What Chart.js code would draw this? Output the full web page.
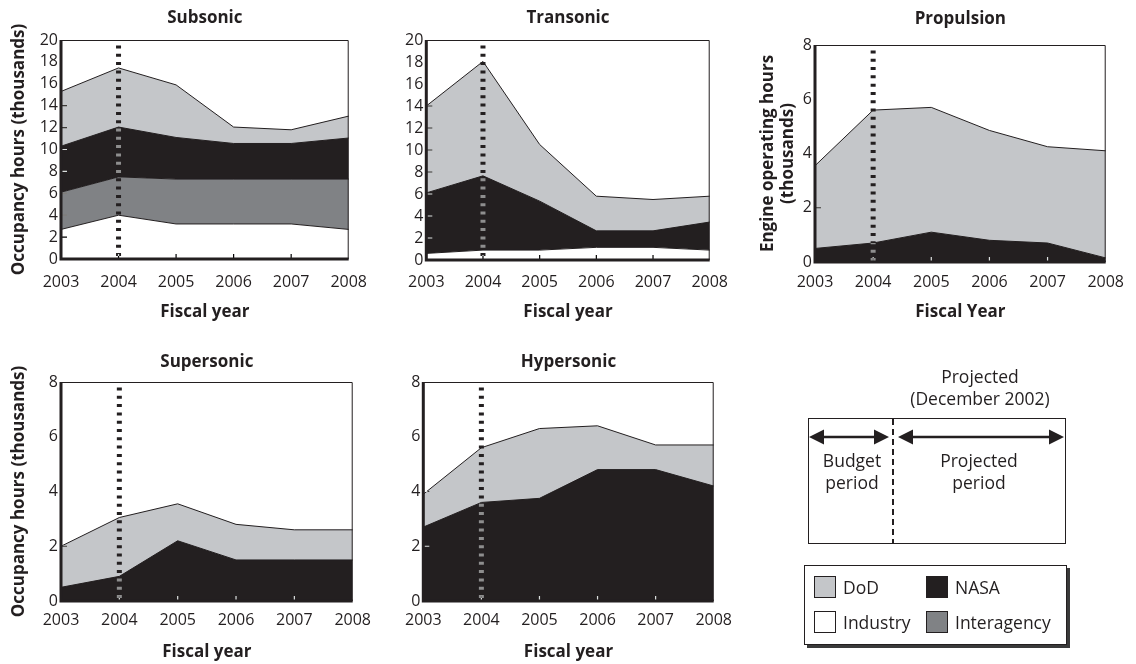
<!DOCTYPE html>
<html>
<head>
<meta charset="utf-8">
<script src="https://cdn.jsdelivr.net/npm/chart.js@4.4.1/dist/chart.umd.min.js"></script>
<style>
    body { margin: 0; background: #fff; font-family: 'Open Sans', sans-serif; color: #231f20; }
    #page { position: relative; width: 1136px; height: 664px; overflow: hidden; }
    canvas { position: absolute; }
    #key { position: absolute; left: 0; top: 0; }
    #legend { position: absolute; left: 804px; top: 565px; width: 261px; height: 78px;
              border: 1px solid #231f20; box-shadow: 3px 3px 0 #3a3a3a; background: #fff; }
    .item { position: absolute; font-size: 17.5px; line-height: 22px; }
    .item span { position: absolute; left: 0; top: 0; width: 20px; height: 20px; border: 1px solid #231f20; }
    .item b { font-weight: normal; position: absolute; left: 29px; top: 0; white-space: nowrap; }
</style>
</head>
<body>
<div id="page">
    <canvas id="subsonic" width="381" height="322" style="left:0;top:0"></canvas>
    <canvas id="transonic" width="346" height="322" style="left:395px;top:0"></canvas>
    <canvas id="propulsion" width="385" height="322" style="left:750px;top:0"></canvas>
    <canvas id="supersonic" width="381" height="324" style="left:0;top:340px"></canvas>
    <canvas id="hypersonic" width="347" height="324" style="left:395px;top:340px"></canvas>

    <svg id="key" width="1136" height="664">
        <g font-family="Open Sans" font-size="17.5" fill="#231f20" text-anchor="middle">
            <text x="980" y="383">Projected</text>
            <text x="980" y="405">(December 2002)</text>
            <text x="852" y="467">Budget</text>
            <text x="852" y="489">period</text>
            <text x="979" y="467">Projected</text>
            <text x="979" y="489">period</text>
        </g>
        <rect x="808.5" y="418.5" width="257" height="125" fill="none" stroke="#231f20" stroke-width="1"></rect>
        <line x1="893" y1="419" x2="893" y2="543" stroke="#231f20" stroke-width="2" stroke-dasharray="6,4"></line>
        <path d="M809,437 l15,-7.5 v15 z M889,437 l-15,-7.5 v15 z M898,437 l15,-7.5 v15 z M1064,437 l-15,-7.5 v15 z" fill="#231f20"></path>
        <line x1="820" y1="437" x2="878" y2="437" stroke="#231f20" stroke-width="2.5"></line>
        <line x1="909" y1="437" x2="1053" y2="437" stroke="#231f20" stroke-width="2.5"></line>
    </svg>

    <div id="legend"></div>
</div>

<script>
var years = ['2003', '2004', '2005', '2006', '2007', '2008'];
var budgetYear = '2004';

// thousands of hours, each band stacked on the one below
var subsonicIndustry = [2.7, 4.0, 3.2, 3.2, 3.2, 2.7];
var subsonicInteragency = [3.4, 3.5, 4.1, 4.1, 4.1, 4.6];
var subsonicNasa = [4.2, 4.55, 3.8, 3.25, 3.25, 3.75];
var subsonicDod = [5.0, 5.4, 4.8, 1.5, 1.25, 2.0];

var transonicIndustry = [0.6, 0.9, 0.9, 1.15, 1.15, 0.9];
var transonicNasa = [5.5, 6.75, 4.45, 1.5, 1.5, 2.55];
var transonicDod = [7.9, 10.4, 5.15, 3.15, 2.85, 2.35];

var propulsionNasa = [0.5, 0.7, 1.1, 0.8, 0.7, 0.15];
var propulsionDod = [3.05, 4.9, 4.6, 4.05, 3.55, 3.95];

var supersonicNasa = [0.5, 0.9, 2.2, 1.5, 1.5, 1.5];
var supersonicDod = [1.5, 2.15, 1.35, 1.3, 1.1, 1.1];

var hypersonicNasa = [2.7, 3.6, 3.75, 4.8, 4.8, 4.2];
var hypersonicDod = [1.2, 2.0, 2.55, 1.6, 0.9, 1.5];

var sponsors = ['DoD', 'NASA', 'Industry', 'Interagency'];
var sponsorColors = ['#c4c6c9', '#231f20', '#ffffff', '#808285'];

var ink = '#231f20';
var fontFamily = "'Open Sans', sans-serif";
var tickSize = 16;
var titleSize = 17;

function colorOf(name) {
    return sponsorColors[sponsors.indexOf(name)];
}

function band(name, data, first) {
    return {
        label: name,
        data: data,
        backgroundColor: colorOf(name),
        borderColor: ink,
        borderWidth: 1,
        fill: first ? 'origin' : '-1',
        pointRadius: 0,
        tension: 0
    };
}

// divider, inward ticks, frame and panel title
var panelDeco = {
    id: 'panelDeco',
    afterDatasetsDraw: function (chart, args, opts) {
        var ctx = chart.ctx, a = chart.chartArea;
        var xs = chart.scales.x, ys = chart.scales.y;
        var i = years.indexOf(budgetYear);
        var bx = xs.getPixelForValue(i);
        var yTop = ys.getPixelForValue(ys.max * 0.975);

        function divider(color) {
            ctx.beginPath();
            ctx.setLineDash([3, 5.3]);
            ctx.lineWidth = 5;
            ctx.strokeStyle = color;
            ctx.moveTo(bx, yTop);
            ctx.lineTo(bx, a.bottom);
            ctx.stroke();
        }

        ctx.save();
        divider(ink);

        // where it crosses the NASA band the dashes are grey
        var n = chart.data.datasets.findIndex(function (d) { return d.label === 'NASA'; });
        var top = chart.getDatasetMeta(n).data[i].y;
        var bottom = n > 0 ? chart.getDatasetMeta(n - 1).data[i].y : a.bottom;
        ctx.save();
        ctx.beginPath();
        ctx.rect(bx - 6, top, 12, bottom - top);
        ctx.clip();
        divider('#8e8e8e');
        ctx.restore();

        ctx.setLineDash([]);
        ctx.globalCompositeOperation = 'difference';
        ctx.strokeStyle = '#ffffff';
        ctx.lineWidth = 1.2;
        ctx.beginPath();
        xs.ticks.forEach(function (t, k) {
            if (k === 0 || k === xs.ticks.length - 1) return;
            var x = xs.getPixelForTick(k);
            ctx.moveTo(x, a.bottom);
            ctx.lineTo(x, a.bottom - 5);
        });
        ys.ticks.forEach(function (t, k) {
            if (k === 0 || k === ys.ticks.length - 1) return;
            var y = ys.getPixelForValue(t.value);
            ctx.moveTo(a.left, y);
            ctx.lineTo(a.left + 6, y);
        });
        ctx.stroke();
        ctx.globalCompositeOperation = 'source-over';

        ctx.strokeStyle = ink;
        ctx.lineWidth = 1;
        ctx.beginPath();
        ctx.moveTo(a.left, a.top + 0.5);
        ctx.lineTo(a.right - 0.5, a.top + 0.5);
        ctx.lineTo(a.right - 0.5, a.bottom);
        ctx.stroke();
        ctx.lineWidth = 3;
        ctx.beginPath();
        ctx.moveTo(a.left, a.top);
        ctx.lineTo(a.left, a.bottom);
        ctx.lineTo(a.right, a.bottom);
        ctx.stroke();

        ctx.fillStyle = ink;
        ctx.font = 'bold ' + titleSize + 'px ' + fontFamily;
        ctx.textAlign = 'center';
        ctx.textBaseline = 'middle';
        ctx.fillText(opts.text, (a.left + a.right) / 2, opts.y);
        ctx.restore();
    }
};

function makePanel(id, o) {
    new Chart(document.getElementById(id), {
        type: 'line',
        data: { labels: years, datasets: o.datasets },
        options: {
            responsive: false,
            animation: false,
            layout: { padding: { top: o.padTop, right: 22, bottom: 0, left: 0 } },
            plugins: {
                legend: { display: false },
                tooltip: { enabled: false },
                panelDeco: { text: o.title, y: o.titleY }
            },
            scales: {
                x: {
                    offset: false,
                    grid: { display: false, drawTicks: false },
                    border: { display: false },
                    ticks: { color: ink, font: { family: fontFamily, size: tickSize }, padding: o.tickPad, maxRotation: 0, autoSkip: false },
                    title: { display: true, text: o.xTitle || 'Fiscal year', color: ink,
                             font: { family: fontFamily, size: titleSize, weight: 'bold' }, padding: { top: 0, bottom: o.xTitlePad } },
                    afterFit: function (s) { s.height = o.xHeight; }
                },
                y: {
                    stacked: true,
                    min: 0,
                    max: o.yMax,
                    grid: { display: false, drawTicks: false },
                    border: { display: false },
                    ticks: { stepSize: o.yStep, autoSkip: false, color: ink, font: { family: fontFamily, size: tickSize, lineHeight: 1 }, padding: 3 },
                    title: { display: !!o.yTitle, text: o.yTitle, color: ink,
                             font: { family: fontFamily, size: titleSize, weight: 'bold', lineHeight: 1.2 }, padding: { top: o.yTitlePad || 0, bottom: 0 } },
                    afterFit: function (s) { s.width = o.yWidth; }
                }
            }
        },
        plugins: [panelDeco]
    });
}

makePanel('subsonic', {
    title: 'Subsonic', titleY: 18, padTop: 40, yWidth: 61, xHeight: 63, tickPad: 14, xTitlePad: 0,
    yMax: 20, yStep: 2, yTitle: 'Occupancy hours (thousands)', yTitlePad: 8.8,
    datasets: [
        band('Industry', subsonicIndustry, true),
        band('Interagency', subsonicInteragency),
        band('NASA', subsonicNasa),
        band('DoD', subsonicDod)
    ]
});

makePanel('transonic', {
    title: 'Transonic', titleY: 18, padTop: 40, yWidth: 27, xHeight: 62, tickPad: 13, xTitlePad: 0,
    yMax: 20, yStep: 2,
    datasets: [
        band('Industry', transonicIndustry, true),
        band('NASA', transonicNasa),
        band('DoD', transonicDod)
    ]
});

makePanel('propulsion', {
    title: 'Propulsion', titleY: 19, padTop: 45, yWidth: 65, xHeight: 60, tickPad: 11, xTitlePad: 0, xTitle: 'Fiscal Year',
    yMax: 8, yStep: 2, yTitle: ['Engine operating hours', '(thousands)'], yTitlePad: 7.8,
    datasets: [
        band('NASA', propulsionNasa, true),
        band('DoD', propulsionDod)
    ]
});

makePanel('supersonic', {
    title: 'Supersonic', titleY: 22, padTop: 42, yWidth: 61, xHeight: 63, tickPad: 10, xTitlePad: 2,
    yMax: 8, yStep: 2, yTitle: 'Occupancy hours (thousands)', yTitlePad: 8.8,
    datasets: [
        band('NASA', supersonicNasa, true),
        band('DoD', supersonicDod)
    ]
});

makePanel('hypersonic', {
    title: 'Hypersonic', titleY: 22, padTop: 42, yWidth: 27, xHeight: 63, tickPad: 10, xTitlePad: 2,
    yMax: 8, yStep: 2,
    datasets: [
        band('NASA', hypersonicNasa, true),
        band('DoD', hypersonicDod)
    ]
});

// sponsor key
var legend = document.getElementById('legend');
var spots = [[9, 10], [121, 10], [9, 45], [121, 45]];
sponsors.forEach(function (name, k) {
    var el = document.createElement('div');
    el.className = 'item';
    el.style.left = spots[k][0] + 'px';
    el.style.top = spots[k][1] + 'px';
    el.innerHTML = '<span style="background:' + sponsorColors[k] + '"></span><b>' + name + '</b>';
    legend.appendChild(el);
});
</script>
</body>
</html>
